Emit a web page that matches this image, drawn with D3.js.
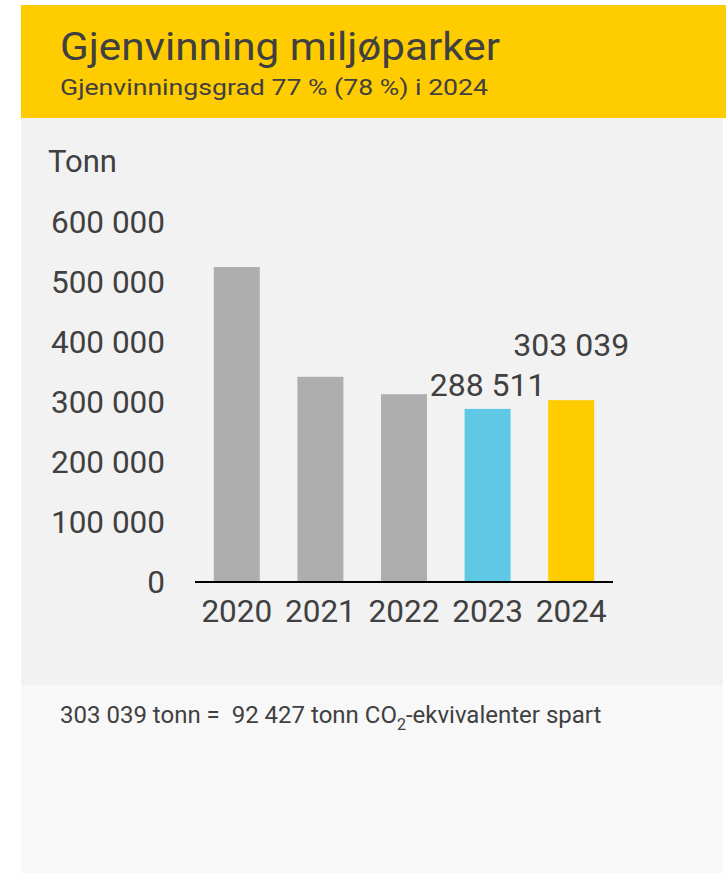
<!DOCTYPE html>
<html>
<head>
<meta charset="utf-8">
<script src="https://cdn.jsdelivr.net/npm/d3@7"></script>
<style>
  body { margin: 0; background: #fff; font-family: Roboto, "Noto Sans", sans-serif; }
  svg text { fill: #404040; }
</style>
</head>
<body>
<div id="chart"></div>
<script>
// Data.
const years = ["2020", "2021", "2022", "2023", "2024"]
const tonnes = [525000, 342000, 313000, 288511, 303039]
const barColours = ["#aeaeae", "#aeaeae", "#aeaeae", "#5ec8e5", "#ffcc00"]
const yTicks = [0, 100000, 200000, 300000, 400000, 500000, 600000]
const labelledYears = ["2023", "2024"]
const labelLift = {"2023": 13, "2024": 44}

const width = 726
const height = 873
const plot = {"left": 195, "right": 613, "top": 222, "bottom": 582}

// Norwegian space thousands formatting.
const fmt = d => d3.format(",")(d).replace(/,/g, " ")

let svg = d3.select("#chart").append("svg")
    .attr("width", width)
    .attr("height", height)

// Panels.
svg.append("rect").attr("x", 21).attr("y", 5).attr("width", 705).attr("height", 113).attr("fill", "#ffcc00")
svg.append("rect").attr("x", 21).attr("y", 118).attr("width", 702).attr("height", 567).attr("fill", "#f2f2f2")
svg.append("rect").attr("x", 21).attr("y", 685).attr("width", 702).attr("height", 188).attr("fill", "#f8f8f8")

// Header (the source renders these a bit wide, so stretch the glyphs).
svg.append("text").attr("x", 60).attr("y", 60)
    .style("font-size", "38px")
    .attr("textLength", 440)
    .attr("lengthAdjust", "spacingAndGlyphs")
    .text("Gjenvinning miljøparker")
svg.append("text").attr("x", 60).attr("y", 95)
    .style("font-size", "22.5px")
    .attr("textLength", 428)
    .attr("lengthAdjust", "spacingAndGlyphs")
    .text("Gjenvinningsgrad 77 % (78 %) i 2024")

// Scales.
let x = d3.scaleBand().domain(years).range([plot.left, plot.right]).paddingInner(0.45).paddingOuter(0.225)
let y = d3.scaleLinear().domain([0, 600000]).range([plot.bottom, plot.top])

// Unit label.
svg.append("text").attr("x", 48).attr("y", 172)
    .style("font-size", "31px")
    .text("Tonn")

// Y axis (labels only).
let yAxis = svg.append("g")
    .attr("transform", "translate(165,0)")
    .call(d3.axisLeft(y).tickValues(yTicks).tickFormat(fmt).tickSize(0).tickPadding(0))
yAxis.select(".domain").remove()
yAxis.selectAll("text")
    .style("font-size", "31.5px")
    .style("font-family", "Roboto, sans-serif")
    .attr("fill", "#404040")

// Bars.
svg.append("g")
    .selectAll("rect")
    .data(years)
    .enter()
    .append("rect")
    .attr("x", d => x(d))
    .attr("width", x.bandwidth())
    .attr("y", (d, i) => y(tonnes[i]))
    .attr("height", (d, i) => y(0) - y(tonnes[i]))
    .attr("fill", (d, i) => barColours[i])

// X axis.
let xAxis = svg.append("g")
    .attr("transform", "translate(0," + plot.bottom + ")")
    .call(d3.axisBottom(x).tickSize(0).tickPadding(18))
xAxis.select(".domain")
    .attr("d", "M" + plot.left + ",0H" + plot.right)
    .attr("stroke", "#000")
    .attr("stroke-width", 2)
xAxis.selectAll("text")
    .style("font-size", "31.5px")
    .style("font-family", "Roboto, sans-serif")
    .attr("fill", "#404040")

// Value labels.
svg.append("g")
    .selectAll("text")
    .data(labelledYears)
    .enter()
    .append("text")
    .attr("x", d => x(d) + x.bandwidth() / 2)
    .attr("y", d => y(tonnes[years.indexOf(d)]) - labelLift[d])
    .attr("text-anchor", "middle")
    .style("font-size", "32px")
    .text(d => fmt(tonnes[years.indexOf(d)]))

// Footer note.
let note = svg.append("text").attr("x", 60).attr("y", 723)
    .style("font-size", "24px")
    .style("white-space", "pre")
note.append("tspan").text("303 039 tonn =  92 427 tonn CO")
note.append("tspan").attr("dy", 7).style("font-size", "16px").text("2")
note.append("tspan").attr("dy", -7).text("-ekvivalenter spart")
</script>
</body>
</html>
